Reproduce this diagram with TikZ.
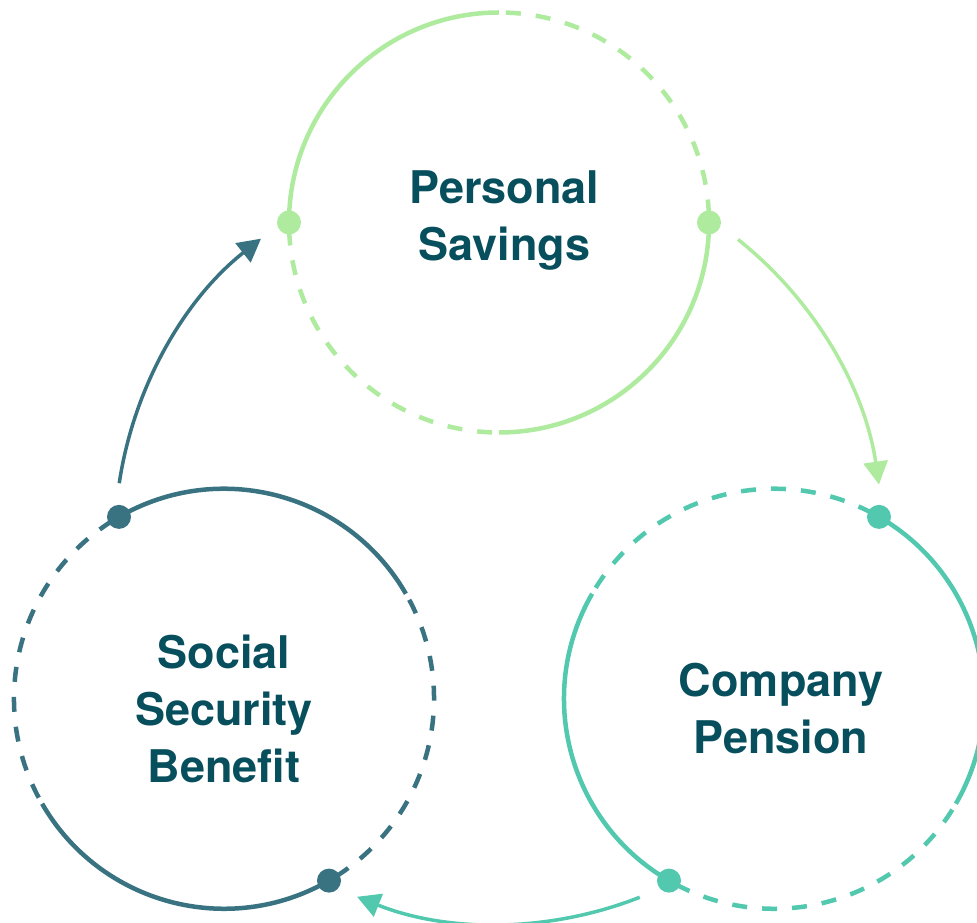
\documentclass[tikz,border=0pt]{standalone}
\usepackage{fontspec}
\setmainfont{TeX Gyre Heros}
\usetikzlibrary{arrows.meta,calc}

\definecolor{savgreen}{HTML}{AEEB9F}
\definecolor{penteal}{HTML}{52C8AE}
\definecolor{socteal}{HTML}{397382}
\definecolor{labelink}{HTML}{084F5E}

\tikzset{
  solidarc/.style={line width=4.5pt},
  dashedarc/.style={line width=4.5pt, dash pattern=on 15pt off 15pt, dash phase=22pt},
  joint/.style={circle, inner sep=0pt, minimum size=24pt},
  flow/.style={line width=3.5pt, -{Triangle[length=23pt,width=24pt]}},
  ringtext/.style={font=\bfseries\fontsize{45}{57}\selectfont, text=labelink,
    align=center, inner sep=0pt},
}

% one ring: centre, rotation, colour
\newcommand{\cyclering}[3]{%
  \draw[solidarc,#3] ([shift={(90+#2:210)}]#1) arc[start angle=90+#2, end angle=180+#2, radius=210];
  \draw[solidarc,#3] ([shift={(270+#2:210)}]#1) arc[start angle=270+#2, end angle=360+#2, radius=210];
  \draw[dashedarc,#3] ([shift={(#2:210)}]#1) arc[start angle=#2, end angle=90+#2, radius=210];
  \draw[dashedarc,#3] ([shift={(180+#2:210)}]#1) arc[start angle=180+#2, end angle=270+#2, radius=210];
}

\begin{document}
\begin{tikzpicture}[x=1pt,y=1pt]
  \useasboundingbox (0,0) rectangle (977,923);

  % centres of the cycle and of the three rings
  \coordinate (G) at (499,383);
  \coordinate (P) at (499,700.5);
  \coordinate (C) at (774,224.25);
  \coordinate (S) at (224,224.25);

  \cyclering{P}{0}{savgreen}
  \cyclering{C}{60}{penteal}
  \cyclering{S}{-60}{socteal}

  % joints on the rings
  \node[joint, fill=savgreen] (P-w) at ([shift={(180:210)}]P) {};
  \node[joint, fill=savgreen] (P-e) at ([shift={(0:210)}]P) {};
  \node[joint, fill=penteal] (C-ne) at ([shift={(60:210)}]C) {};
  \node[joint, fill=penteal] (C-sw) at ([shift={(240:210)}]C) {};
  \node[joint, fill=socteal] (S-nw) at ([shift={(120:210)}]S) {};
  \node[joint, fill=socteal] (S-se) at ([shift={(300:210)}]S) {};

  % flow arrows around the cycle
  \coordinate (f1) at ([shift={(171.5:384)}]G);
  \coordinate (f2) at ([shift={(51.5:384)}]G);
  \coordinate (f3) at ([shift={(291.5:384)}]G);
  \draw[flow, socteal] (f1) arc[start angle=171.5, end angle=128.3, radius=384];
  \draw[flow, savgreen] (f2) arc[start angle=51.5, end angle=8.3, radius=384];
  \draw[flow, penteal] (f3) arc[start angle=291.5, end angle=248.3, radius=384];

  % labels
  \node[ringtext] (tP) at (504.5,702.5) {Personal\\Savings};
  \node[ringtext] (tC) at (781,214.5) {Company\\Pension};
  \node[ringtext] (tS) at (224,214.5) {Social\\Security\\Benefit};
\end{tikzpicture}
\end{document}
